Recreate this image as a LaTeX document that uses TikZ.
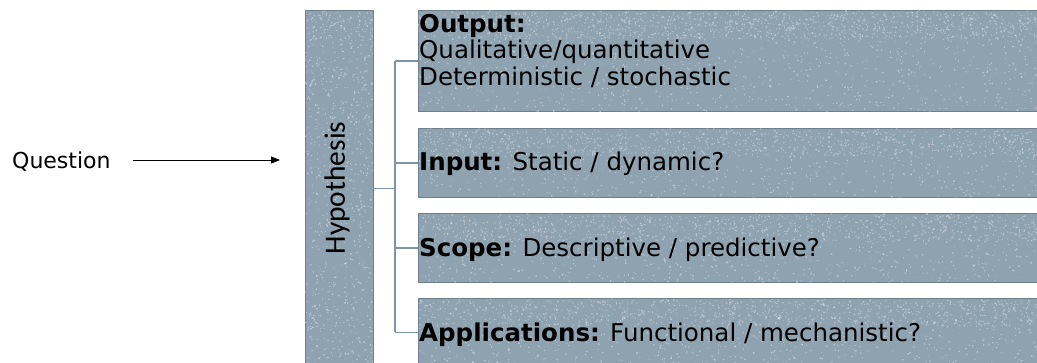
\documentclass[tikz,border=0pt]{standalone}
\usepackage{fontspec}
\setmainfont{DejaVu Sans}
\newfontfamily\hypfont{Carlito}
\usetikzlibrary{arrows.meta}
\definecolor{slate}{HTML}{8EA2B0}
\definecolor{slateedge}{HTML}{6E808C}
\definecolor{branch}{HTML}{7D95A4}
\tikzset{
  panel/.style={fill=slate, draw=slateedge, line width=0.8pt, inner sep=0pt, anchor=north west},
  conn/.style={draw=branch, line width=1.2pt},
  boxtext/.style={anchor=base west, inner sep=0pt, font=\fontsize{24.5}{26.5}\selectfont, align=left},
}
% speckled texture inside a rectangle: #5 flecks overall, #6 more in a strip at the top
\newcommand{\grunge}[6]{%
  \begin{scope}
    \clip (#1,#2) rectangle (#3,#4);
    \foreach \pass in {1,2}{
      \fill[white, opacity=0.4] foreach \k in {1,...,#5}{
        ({#1+rnd*(#3-#1)},{#2+rnd*(#4-#2)}) rectangle ++({0.6+1.1*rnd},{0.6+1.1*rnd})};
    }
    \foreach \pass in {1,2}{
      \fill[white, opacity=0.35] foreach \k in {1,...,#6}{
        ({#1+rnd*(#3-#1)},{#2+2+rnd*26}) rectangle ++({0.6+1.1*rnd},{0.6+1.1*rnd})};
    }
  \end{scope}}
\begin{document}
\begin{tikzpicture}[x=1pt, y=-1pt]
\useasboundingbox (0,0) rectangle (1037,362);
\pgfmathsetseed{17}

% hypothesis bar and the four category panels
\node[panel, minimum width=68pt, minimum height=356pt] (hyp) at (305,10) {};
\node[panel, minimum width=622pt, minimum height=101pt] (b1) at (418,10) {};
\node[panel, minimum width=622pt, minimum height=69pt] (b2) at (418,128) {};
\node[panel, minimum width=622pt, minimum height=69pt] (b3) at (418,213) {};
\node[panel, minimum width=622pt, minimum height=68pt] (b4) at (418,298) {};

\grunge{305}{10}{373}{366}{450}{30}
\grunge{418}{10}{1040}{111}{600}{600}
\grunge{418}{128}{1040}{197}{420}{420}
\grunge{418}{213}{1040}{282}{420}{420}
\grunge{418}{298}{1040}{366}{420}{420}

\node[rotate=90, inner sep=0pt, font=\hypfont\fontsize{29.5}{29.5}\selectfont] (hyptext) at (337,188) {Hypothesis};

% panel texts
\node[boxtext] (t1) at (419,85) {\textbf{Output:}\\Qualitative/quantitative\\Deterministic / stochastic};
\node[boxtext] (t2) at (419,170) {\textbf{Input:} Static / dynamic?};
\node[boxtext] (t3) at (419,256) {\textbf{Scope:} Descriptive / predictive?};
\node[boxtext] (t4) at (419,341) {\textbf{Applications:} Functional / mechanistic?};

% branching connectors
\coordinate (hub) at (395,188);
\draw[conn] (hyp.east) -- (hyp.east -| hub);
\draw[conn] (hub |- b1.west) -- (hub |- b4.west);
\foreach \b in {b1,b2,b3,b4}{\draw[conn] (hub |- \b.west) -- (\b.west);}

% question and arrow
\node[anchor=base west, inner sep=0pt, font=\fontsize{22}{22}\selectfont] (q) at (12,168) {Question};
\coordinate (qs) at (133,160);
\coordinate (qe) at (280,160);
\draw[line width=0.9pt, -{Triangle[length=9pt,width=7pt]}] (qs) -- (qe);
\end{tikzpicture}
\end{document}
